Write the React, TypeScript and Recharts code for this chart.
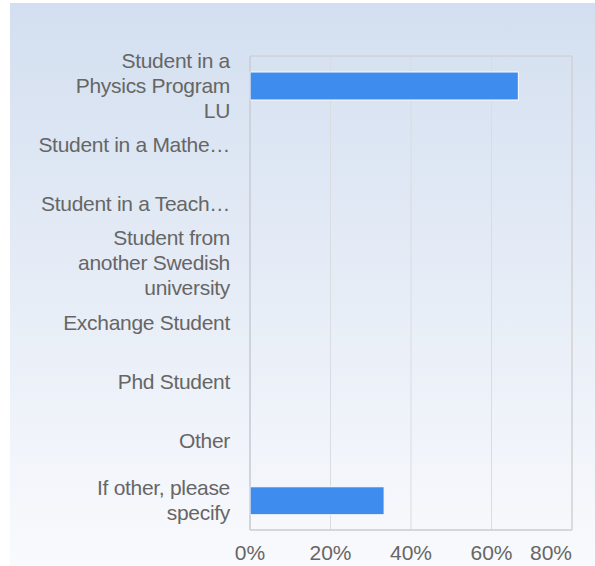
import { BarChart, Bar, XAxis, YAxis, CartesianGrid, ReferenceArea } from 'recharts';

const categories = [
  'Student in a Physics Program LU',
  'Student in a Mathe…',
  'Student in a Teach…',
  'Student from another Swedish university',
  'Exchange Student',
  'Phd Student',
  'Other',
  'If other, please specify',
];

const tickLines = [
  ['Student in a', 'Physics Program', 'LU'],
  ['Student in a Mathe…'],
  ['Student in a Teach…'],
  ['Student from', 'another Swedish', 'university'],
  ['Exchange Student'],
  ['Phd Student'],
  ['Other'],
  ['If other, please', 'specify'],
];

const shares = [0.6667, 0, 0, 0, 0, 0, 0, 0.3333];
const xTicks = [0, 0.2, 0.4, 0.6, 0.8];

const data = categories.map((name, i) => ({ name, value: shares[i] }));

const FONT = '"Liberation Sans", Arial, sans-serif';
const LINE_H = 25;

function CategoryTick(props: any) {
  const { x, y, payload } = props;
  const idx = categories.indexOf(payload.value);
  const lines = tickLines[idx] || [payload.value];
  const start = -((lines.length - 1) / 2) * LINE_H;
  return (
    <text x={x + 1} y={y} textAnchor="end" fill="#666" fontSize={21} fontFamily={FONT} letterSpacing={-0.3}>
      {lines.map((l, i) => (
        <tspan key={i} x={x + 1} dy={i === 0 ? start + 7 : LINE_H}>{l}</tspan>
      ))}
    </text>
  );
}

function PercentTick(props: any) {
  const { x, y, payload } = props;
  const last = payload.value === xTicks[xTicks.length - 1];
  return (
    <text x={x} y={y} dy={22} textAnchor={last ? 'end' : 'middle'} fill="#666" fontSize={21} fontFamily={FONT}>
      {Math.round(payload.value * 100) + '%'}
    </text>
  );
}

export default function App() {
  return (
    <div
      style={{
        position: 'absolute',
        left: 10,
        top: 3,
        width: 585,
        height: 563,
        background: 'linear-gradient(to bottom, #d3dff0 0%, #f9fafd 100%)',
      }}
    >
      <BarChart
        width={585}
        height={563}
        data={data}
        layout="vertical"
        margin={{ top: 53, right: 23, left: 0, bottom: 0 }}
        barCategoryGap={0}
      >
        <CartesianGrid horizontal={false} stroke="#dadcdf" />
        <XAxis
          type="number"
          domain={[0, 0.8]}
          ticks={xTicks}
          height={36}
          tick={<PercentTick />}
          tickLine={false}
          axisLine={{ stroke: '#ccc' }}
          interval={0}
        />
        <YAxis
          type="category"
          dataKey="name"
          width={240}
          tick={<CategoryTick />}
          tickLine={false}
          tickSize={0}
          tickMargin={21}
          axisLine={{ stroke: '#c5cedd' }}
          interval={0}
        />
        <ReferenceArea x1={0} x2={0.8} fill="none" stroke="#ccc" strokeOpacity={1} ifOverflow="visible" />
        <Bar dataKey="value" fill="#3f8cef" stroke="#fff" strokeWidth={1} barSize={28} isAnimationActive={false} />
      </BarChart>
    </div>
  );
}
